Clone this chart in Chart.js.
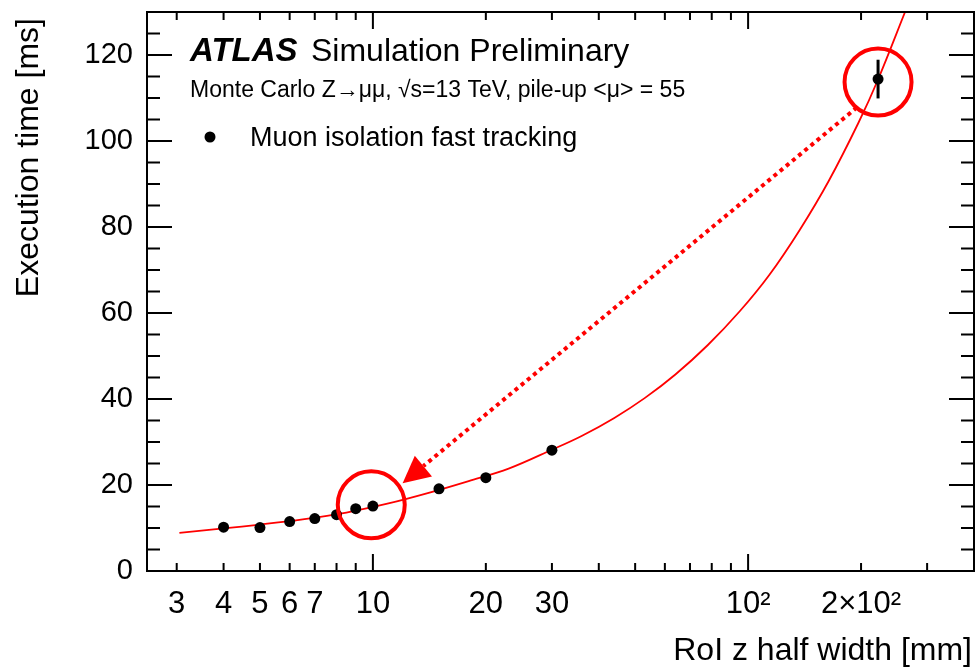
<!DOCTYPE html>
<html>
<head>
<meta charset="utf-8">
<title>RoI z half width vs execution time</title>
<script src="https://cdn.jsdelivr.net/npm/chart.js@4"></script>
<style>
    html, body { margin: 0; padding: 0; background: #ffffff; }
    #wrap { width: 975px; height: 667px; }
</style>
</head>
<body>
<div id="wrap"><canvas id="chart" width="975" height="667"></canvas></div>
<script>
// Measured points: RoI z half width [mm] -> execution time [ms]
const roiWidth = [4, 5, 6, 7, 8, 9, 10, 15, 20, 30, 222];
const execTime = [10.2, 10.1, 11.5, 12.2, 13.1, 14.5, 15.1, 19.1, 21.7, 28.1, 114.4];
const execErr  = [0, 0, 0, 0, 0, 0, 0, 0, 0, 0, 4.5];

// Red fit curve
const fitX = [3.05, 4, 5, 6.5, 8.5, 11, 14, 18, 23, 30, 36, 44, 53, 64, 78, 95, 114, 137, 164, 197, 222, 262];
const fitY = [8.85, 9.9, 10.8, 12.0, 13.6, 15.7, 18.1, 20.9, 23.8, 28.2, 31.4, 35.6, 40.2, 45.7, 52.5, 60.4, 68.9, 79.2, 90.7, 104.3, 114.3, 130.0];

// Axis ticks
const xTickValues = [3, 4, 5, 6, 7, 10, 20, 30, 100, 200];
const xTickLabels = ['3', '4', '5', '6', '7', '10', '20', '30', '10²', '2×10²'];
const yTickValues = [0, 20, 40, 60, 80, 100, 120];

// Highlight circles and the dotted arrow, in data coordinates
const circleCentres = [[9.9, 15.4], [222, 113.7]];
const arrowFrom = [195, 107.8];
const arrowTo = [12.0, 20.4];

const FONT = "'Liberation Sans', Arial, Helvetica, sans-serif";
const RED = '#ff0000';

// Inward ticks on all four sides + frame (ROOT style)
const frameTicks = {
    id: 'frameTicks',
    afterDatasetsDraw(chart) {
        const { ctx, chartArea: a, scales: { x, y } } = chart;
        ctx.save();
        ctx.strokeStyle = '#000';
        ctx.lineWidth = 2;
        ctx.beginPath();
        for (let d = 1; d <= 100; d *= 10) {
            for (let k = 1; k < 10; k++) {
                const v = d * k;
                if (v < x.min || v > x.max) continue;
                const px = x.getPixelForValue(v);
                const len = k === 1 ? 17 : 8;
                ctx.moveTo(px, a.bottom); ctx.lineTo(px, a.bottom - len);
                ctx.moveTo(px, a.top); ctx.lineTo(px, a.top + len);
            }
        }
        for (let v = 0; v < 130; v += 5) {
            const py = y.getPixelForValue(v);
            const len = v % 20 === 0 ? 25 : 13;
            ctx.moveTo(a.left, py); ctx.lineTo(a.left + len, py);
            ctx.moveTo(a.right, py); ctx.lineTo(a.right - len, py);
        }
        ctx.stroke();
        ctx.strokeRect(a.left, a.top, a.right - a.left, a.bottom - a.top);
        ctx.restore();
    }
};

// Vertical error bars under the markers
const errorBars = {
    id: 'errorBars',
    beforeDatasetDraw(chart, args) {
        if (args.index !== 0) return;
        const { ctx, scales: { x, y } } = chart;
        ctx.save();
        ctx.strokeStyle = '#000';
        ctx.lineWidth = 3;
        roiWidth.forEach((w, i) => {
            if (!execErr[i]) return;
            const px = x.getPixelForValue(w);
            ctx.beginPath();
            ctx.moveTo(px, y.getPixelForValue(execTime[i] - execErr[i]));
            ctx.lineTo(px, y.getPixelForValue(execTime[i] + execErr[i]));
            ctx.stroke();
        });
        ctx.restore();
    }
};

// Red circles + dotted arrow + all the texts
const annotations = {
    id: 'annotations',
    afterDraw(chart) {
        const { ctx, scales: { x, y } } = chart;
        ctx.save();

        ctx.strokeStyle = RED;
        ctx.lineWidth = 4;
        circleCentres.forEach(c => {
            ctx.beginPath();
            ctx.arc(x.getPixelForValue(c[0]), y.getPixelForValue(c[1]), 33.5, 0, Math.PI * 2);
            ctx.stroke();
        });

        const x0 = x.getPixelForValue(arrowFrom[0]), y0 = y.getPixelForValue(arrowFrom[1]);
        const x1 = x.getPixelForValue(arrowTo[0]), y1 = y.getPixelForValue(arrowTo[1]);
        const ang = Math.atan2(y1 - y0, x1 - x0);
        const headLen = 27, headHalf = 13.5;
        const bx = x1 - headLen * Math.cos(ang), by = y1 - headLen * Math.sin(ang);
        ctx.setLineDash([4, 4]);
        ctx.beginPath();
        ctx.moveTo(x0, y0);
        ctx.lineTo(bx, by);
        ctx.stroke();
        ctx.setLineDash([]);
        ctx.fillStyle = RED;
        ctx.beginPath();
        ctx.moveTo(x1, y1);
        ctx.lineTo(bx + headHalf * Math.sin(ang), by - headHalf * Math.cos(ang));
        ctx.lineTo(bx - headHalf * Math.sin(ang), by + headHalf * Math.cos(ang));
        ctx.closePath();
        ctx.fill();

        // ATLAS label
        ctx.fillStyle = '#000';
        ctx.textBaseline = 'alphabetic';
        ctx.textAlign = 'left';
        ctx.font = `italic bold 33px ${FONT}`;
        ctx.fillText('ATLAS', 190, 61);
        ctx.font = `32px ${FONT}`;
        ctx.fillText('Simulation Preliminary', 311, 61);
        ctx.font = `23px ${FONT}`;
        ctx.fillText('Monte Carlo Z\u2192\u03bc\u03bc, \u221as=13 TeV, pile-up <\u03bc> = 55', 190, 97);

        // legend
        ctx.beginPath();
        ctx.arc(210, 137, 5.5, 0, Math.PI * 2);
        ctx.fill();
        ctx.font = `27px ${FONT}`;
        ctx.fillText('Muon isolation fast tracking', 250, 146);

        // axis titles
        ctx.font = `32px ${FONT}`;
        ctx.textAlign = 'right';
        ctx.fillText('RoI z half width [mm]', 972, 660);
        ctx.save();
        ctx.translate(38, 18);
        ctx.rotate(-Math.PI / 2);
        ctx.fillText('Execution time [ms]', 0, 0);
        ctx.restore();

        ctx.restore();
    }
};

const ctx = document.getElementById('chart').getContext('2d');
new Chart(ctx, {
    type: 'scatter',
    data: {
        datasets: [{
            label: 'Muon isolation fast tracking',
            data: roiWidth.map((w, i) => ({ x: w, y: execTime[i] })),
            backgroundColor: '#000',
            borderWidth: 0,
            pointRadius: 5.5,
            pointHoverRadius: 5.5
        }, {
            label: 'fit',
            type: 'line',
            data: fitX.map((v, i) => ({ x: v, y: fitY[i] })),
            borderColor: RED,
            borderWidth: 1.8,
            pointRadius: 0,
            fill: false,
            tension: 0.35
        }]
    },
    options: {
        responsive: false,
        animation: false,
        devicePixelRatio: 1,
        layout: { autoPadding: false, padding: { top: 12, right: 1, left: 0, bottom: 0 } },
        plugins: {
            legend: { display: false },
            tooltip: { enabled: false }
        },
        scales: {
            x: {
                type: 'logarithmic',
                min: 2.5,
                max: 400,
                grid: { display: false, drawTicks: false },
                border: { display: false },
                afterBuildTicks: s => { s.ticks = xTickValues.map(v => ({ value: v })); },
                afterFit: s => { s.height = 96; s.paddingLeft = 0; s.paddingRight = 0; },
                ticks: {
                    autoSkip: false,
                    maxRotation: 0,
                    padding: 15,
                    color: '#000',
                    font: { family: FONT, size: 31 },
                    callback: v => xTickLabels[xTickValues.indexOf(v)]
                }
            },
            y: {
                min: 0,
                max: 130,
                grid: { display: false, drawTicks: false },
                border: { display: false },
                afterBuildTicks: s => { s.ticks = yTickValues.map(v => ({ value: v })); },
                afterFit: s => { s.width = 147; s.paddingTop = 0; s.paddingBottom = 0; },
                ticks: {
                    padding: 14,
                    color: '#000',
                    font: { family: FONT, size: 29 }
                }
            }
        }
    },
    plugins: [errorBars, frameTicks, annotations]
});
</script>
</body>
</html>
